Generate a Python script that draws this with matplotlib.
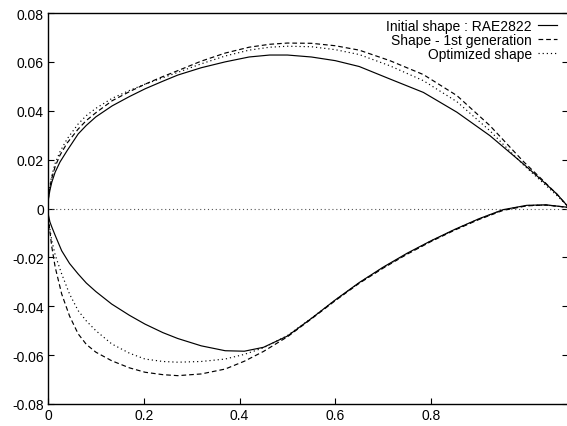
import matplotlib
matplotlib.use("Agg")
import matplotlib.pyplot as plt

plt.rcParams['font.family'] = ['Liberation Sans', 'DejaVu Sans']

# upper surface
x_up = [0, 0.001, 0.004, 0.008, 0.015, 0.025, 0.04, 0.063, 0.08, 0.1, 0.134, 0.17,
        0.203, 0.24, 0.271, 0.32, 0.37, 0.42, 0.463, 0.5, 0.55, 0.6, 0.65, 0.714,
        0.784, 0.854, 0.923, 0.993, 1.03, 1.063, 1.085]
up_init = [0, 0.0040, 0.0075, 0.0108, 0.0149, 0.0190, 0.0237, 0.0305, 0.0340, 0.0375, 0.0420, 0.0458,
           0.0490, 0.0521, 0.0546, 0.0576, 0.0600, 0.0620, 0.0628, 0.0628, 0.0620, 0.0605, 0.0581, 0.0530,
           0.0475, 0.0394, 0.0298, 0.0182, 0.0118, 0.0059, 0.001]
up_gen1 = [0, 0.0045, 0.0088, 0.0125, 0.0172, 0.0218, 0.0268, 0.0325, 0.0360, 0.0392, 0.0441, 0.0478,
           0.0509, 0.0540, 0.0564, 0.0603, 0.0636, 0.0660, 0.0672, 0.0677, 0.0676, 0.0666, 0.0648, 0.0605,
           0.0548, 0.0462, 0.0339, 0.0192, 0.0122, 0.0058, 0.001]
up_opt = [0, 0.0050, 0.0095, 0.0135, 0.0185, 0.0232, 0.0285, 0.0346, 0.0380, 0.0410, 0.0451, 0.0483,
          0.0509, 0.0535, 0.0557, 0.0592, 0.0624, 0.0648, 0.0660, 0.0664, 0.0662, 0.0650, 0.0630, 0.0584,
          0.0523, 0.0437, 0.0318, 0.0178, 0.0112, 0.0053, 0.001]

# lower surface
x_lo = [0, 0.001, 0.004, 0.008, 0.015, 0.0286, 0.045, 0.063, 0.08, 0.1, 0.133, 0.17,
        0.2025, 0.24, 0.271, 0.32, 0.37, 0.41, 0.45, 0.5, 0.55, 0.6, 0.65, 0.7,
        0.75, 0.8, 0.85, 0.9, 0.95, 1.0, 1.04, 1.085]
lo_init = [0, -0.0028, -0.0055, -0.0076, -0.0110, -0.0173, -0.0225, -0.0268, -0.0305, -0.0340, -0.0391, -0.0437,
           -0.0473, -0.0508, -0.0532, -0.0562, -0.0582, -0.0584, -0.0568, -0.0522, -0.0450, -0.0374, -0.0303, -0.0240,
           -0.0183, -0.0132, -0.0085, -0.0042, -0.0005, 0.0013, 0.0015, 0.0005]
lo_gen1 = [0, -0.0045, -0.0095, -0.0158, -0.0240, -0.0350, -0.0440, -0.0513, -0.0556, -0.0588, -0.0623, -0.0652,
           -0.0670, -0.0680, -0.0684, -0.0677, -0.0657, -0.0625, -0.0585, -0.0525, -0.0452, -0.0377, -0.0306, -0.0244,
           -0.0187, -0.0135, -0.0088, -0.0045, -0.0008, 0.0011, 0.0014, 0.0005]
lo_opt = [0, -0.0040, -0.0085, -0.0132, -0.0190, -0.0268, -0.0350, -0.0418, -0.0460, -0.0500, -0.0554, -0.0592,
          -0.0616, -0.0626, -0.0629, -0.0626, -0.0616, -0.0597, -0.0570, -0.0520, -0.0449, -0.0375, -0.0304, -0.0242,
          -0.0185, -0.0133, -0.0086, -0.0043, -0.0006, 0.0012, 0.0014, 0.0005]

xticks = [0, 0.2, 0.4, 0.6, 0.8]
xlabels = ['0', '0.2', '0.4', '0.6', '0.8']
yticks = [-0.08, -0.06, -0.04, -0.02, 0, 0.02, 0.04, 0.06, 0.08]
ylabels = ['-0.08', '-0.06', '-0.04', '-0.02', '0', '0.02', '0.04', '0.06', '0.08']

fig = plt.figure(figsize=(5.67, 4.27), dpi=100)
ax = fig.add_axes([48/567, 22/427, 520/567, 391/427])

ax.axhline(0, color='#555555', lw=0.8, ls=(0, (1, 2.5)))

solid = dict(color='black', lw=0.85, ls='-')
dashed = dict(color='black', lw=0.85, ls=(0, (4, 2.5)))
dotted = dict(color='black', lw=0.85, ls=(0, (1, 2.5)))

l1, = ax.plot(x_up, up_init, **solid)
ax.plot(x_lo, lo_init, **solid)
l2, = ax.plot(x_up, up_gen1, **dashed)
ax.plot(x_lo, lo_gen1, **dashed)
l3, = ax.plot(x_up, up_opt, **dotted)
ax.plot(x_lo, lo_opt, **dotted)

ax.set_xlim(0, 1.086)
ax.set_ylim(-0.08, 0.08)
ax.set_xticks(xticks)
ax.set_xticklabels(xlabels)
ax.set_yticks(yticks)
ax.set_yticklabels(ylabels)
ax.tick_params(direction='in', length=4, width=0.8, labelsize=10, pad=3,
               right=True, top=False)
for s in ax.spines.values():
    s.set_linewidth(1.0)

leg = ax.legend([l1, l2, l3],
                ['Initial shape : RAE2822', 'Shape - 1st generation', 'Optimized shape'],
                loc='upper right', bbox_to_anchor=(0.979, 0.985), frameon=False,
                markerfirst=False, fontsize=10, handlelength=1.35, handletextpad=0.45,
                labelspacing=0.0, borderaxespad=0, borderpad=0)
for t in leg.get_texts():
    t.set_ha('right')

fig.savefig('out.png', dpi=100)
